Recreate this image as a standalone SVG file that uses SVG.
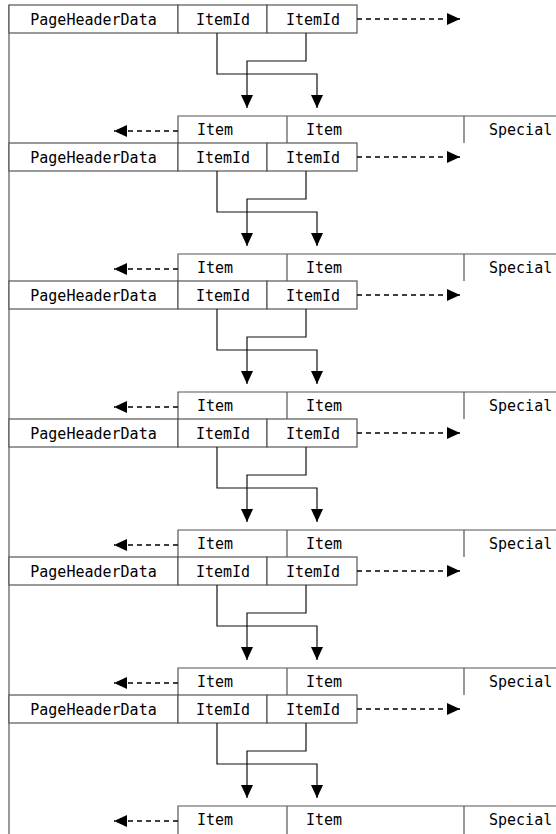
<svg xmlns="http://www.w3.org/2000/svg" width="556" height="834" viewBox="0 0 556 834">
<style>
.box{fill:#fff;stroke:#555;stroke-width:1.2}
.row{fill:none;stroke:#555;stroke-width:1.2}
.con{fill:none;stroke:#111;stroke-width:1.2}
.dash{fill:none;stroke:#000;stroke-width:1.3;stroke-dasharray:5,4}
.t{font-family:"DejaVu Sans Mono","Liberation Mono",monospace;font-size:15px;fill:#000}
.m{text-anchor:middle}
</style>
<defs>
<marker id="arr" viewBox="0 0 13 12" refX="13" refY="6" markerWidth="13" markerHeight="12" markerUnits="userSpaceOnUse" orient="auto">
<path d="M0,0 L13,6 L0,12 z" fill="#000"/>
</marker>
</defs>
<rect width="556" height="834" fill="#fff"/>
<g id="frame"><line class="row" x1="9" y1="5" x2="9" y2="834"/></g>

<g id="block1">
<g id="header1"><rect class="box" x="9" y="5" width="169" height="28"/><text class="t m" x="93.5" y="24.5">PageHeaderData</text></g>
<g id="itemid1a"><rect class="box" x="178" y="5" width="89" height="28"/><text class="t m" x="223" y="24.5">ItemId</text></g>
<g id="itemid1b"><rect class="box" x="267" y="5" width="90" height="28"/><text class="t m" x="313" y="24.5">ItemId</text></g>
<g id="items1"><path class="row" d="M178,143 V116 H556 M287,116 V143 M464,116 V143"/><text class="t" x="197" y="135">Item</text><text class="t" x="306" y="135">Item</text><text class="t" x="489" y="135">Special</text></g>
<g id="connectors1">
<path class="con" d="M306,33 V61 H247 V108" marker-end="url(#arr)"/>
<path class="con" d="M217,33 V74 H317 V108" marker-end="url(#arr)"/>
<path class="dash" d="M357,19 H460" marker-end="url(#arr)"/>
<path class="dash" d="M178,131 H114" marker-end="url(#arr)"/>
</g>
</g>

<g id="block2" transform="translate(0,138)">
<g id="header2"><rect class="box" x="9" y="5" width="169" height="28"/><text class="t m" x="93.5" y="24.5">PageHeaderData</text></g>
<g id="itemid2a"><rect class="box" x="178" y="5" width="89" height="28"/><text class="t m" x="223" y="24.5">ItemId</text></g>
<g id="itemid2b"><rect class="box" x="267" y="5" width="90" height="28"/><text class="t m" x="313" y="24.5">ItemId</text></g>
<g id="items2"><path class="row" d="M178,143 V116 H556 M287,116 V143 M464,116 V143"/><text class="t" x="197" y="135">Item</text><text class="t" x="306" y="135">Item</text><text class="t" x="489" y="135">Special</text></g>
<g id="connectors2">
<path class="con" d="M306,33 V61 H247 V108" marker-end="url(#arr)"/>
<path class="con" d="M217,33 V74 H317 V108" marker-end="url(#arr)"/>
<path class="dash" d="M357,19 H460" marker-end="url(#arr)"/>
<path class="dash" d="M178,131 H114" marker-end="url(#arr)"/>
</g>
</g>

<g id="block3" transform="translate(0,276)">
<g id="header3"><rect class="box" x="9" y="5" width="169" height="28"/><text class="t m" x="93.5" y="24.5">PageHeaderData</text></g>
<g id="itemid3a"><rect class="box" x="178" y="5" width="89" height="28"/><text class="t m" x="223" y="24.5">ItemId</text></g>
<g id="itemid3b"><rect class="box" x="267" y="5" width="90" height="28"/><text class="t m" x="313" y="24.5">ItemId</text></g>
<g id="items3"><path class="row" d="M178,143 V116 H556 M287,116 V143 M464,116 V143"/><text class="t" x="197" y="135">Item</text><text class="t" x="306" y="135">Item</text><text class="t" x="489" y="135">Special</text></g>
<g id="connectors3">
<path class="con" d="M306,33 V61 H247 V108" marker-end="url(#arr)"/>
<path class="con" d="M217,33 V74 H317 V108" marker-end="url(#arr)"/>
<path class="dash" d="M357,19 H460" marker-end="url(#arr)"/>
<path class="dash" d="M178,131 H114" marker-end="url(#arr)"/>
</g>
</g>

<g id="block4" transform="translate(0,414)">
<g id="header4"><rect class="box" x="9" y="5" width="169" height="28"/><text class="t m" x="93.5" y="24.5">PageHeaderData</text></g>
<g id="itemid4a"><rect class="box" x="178" y="5" width="89" height="28"/><text class="t m" x="223" y="24.5">ItemId</text></g>
<g id="itemid4b"><rect class="box" x="267" y="5" width="90" height="28"/><text class="t m" x="313" y="24.5">ItemId</text></g>
<g id="items4"><path class="row" d="M178,143 V116 H556 M287,116 V143 M464,116 V143"/><text class="t" x="197" y="135">Item</text><text class="t" x="306" y="135">Item</text><text class="t" x="489" y="135">Special</text></g>
<g id="connectors4">
<path class="con" d="M306,33 V61 H247 V108" marker-end="url(#arr)"/>
<path class="con" d="M217,33 V74 H317 V108" marker-end="url(#arr)"/>
<path class="dash" d="M357,19 H460" marker-end="url(#arr)"/>
<path class="dash" d="M178,131 H114" marker-end="url(#arr)"/>
</g>
</g>

<g id="block5" transform="translate(0,552)">
<g id="header5"><rect class="box" x="9" y="5" width="169" height="28"/><text class="t m" x="93.5" y="24.5">PageHeaderData</text></g>
<g id="itemid5a"><rect class="box" x="178" y="5" width="89" height="28"/><text class="t m" x="223" y="24.5">ItemId</text></g>
<g id="itemid5b"><rect class="box" x="267" y="5" width="90" height="28"/><text class="t m" x="313" y="24.5">ItemId</text></g>
<g id="items5"><path class="row" d="M178,143 V116 H556 M287,116 V143 M464,116 V143"/><text class="t" x="197" y="135">Item</text><text class="t" x="306" y="135">Item</text><text class="t" x="489" y="135">Special</text></g>
<g id="connectors5">
<path class="con" d="M306,33 V61 H247 V108" marker-end="url(#arr)"/>
<path class="con" d="M217,33 V74 H317 V108" marker-end="url(#arr)"/>
<path class="dash" d="M357,19 H460" marker-end="url(#arr)"/>
<path class="dash" d="M178,131 H114" marker-end="url(#arr)"/>
</g>
</g>

<g id="block6" transform="translate(0,690)">
<g id="header6"><rect class="box" x="9" y="5" width="169" height="28"/><text class="t m" x="93.5" y="24.5">PageHeaderData</text></g>
<g id="itemid6a"><rect class="box" x="178" y="5" width="89" height="28"/><text class="t m" x="223" y="24.5">ItemId</text></g>
<g id="itemid6b"><rect class="box" x="267" y="5" width="90" height="28"/><text class="t m" x="313" y="24.5">ItemId</text></g>
<g id="items6"><path class="row" d="M178,145 V116 H556 M287,116 V145 M464,116 V145"/><text class="t" x="197" y="135">Item</text><text class="t" x="306" y="135">Item</text><text class="t" x="489" y="135">Special</text></g>
<g id="connectors6">
<path class="con" d="M306,33 V61 H247 V108" marker-end="url(#arr)"/>
<path class="con" d="M217,33 V74 H317 V108" marker-end="url(#arr)"/>
<path class="dash" d="M357,19 H460" marker-end="url(#arr)"/>
<path class="dash" d="M178,131 H114" marker-end="url(#arr)"/>
</g>
</g>
</svg>
